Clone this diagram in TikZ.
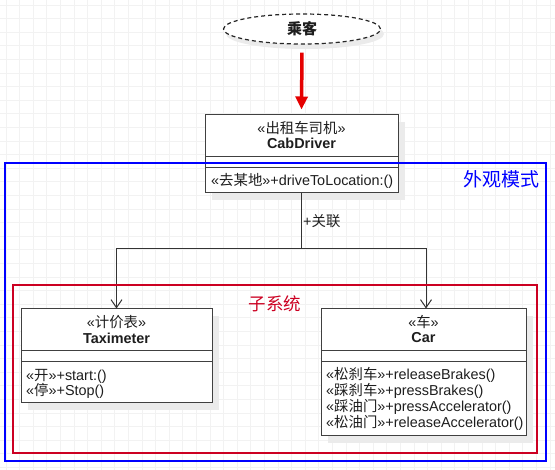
\documentclass[tikz,border=0pt]{standalone}
\usepackage{fontspec}
\setmainfont{Liberation Sans}
\newfontfamily\cjk{Noto Sans CJK SC}
\usetikzlibrary{arrows.meta,shapes.geometric}
\newcommand{\zh}[1]{{\cjk #1}}
\definecolor{subred}{RGB}{204,0,34}
\definecolor{ink}{RGB}{30,30,30}
\tikzset{
  gridline/.style={draw=black!5, line width=0.8pt},
  cls/.style={draw=black!75, line width=1pt, fill=white, inner sep=0pt, rectangle},
  cline/.style={draw=black!75, line width=1pt},
  shadowbox/.style={fill=black!8, draw=none},
  txt/.style={inner sep=0pt, font=\fontsize{14.4}{16}\selectfont, text=ink},
  mth/.style={txt, anchor=base west},
  assoc/.style={draw=black!80, line width=0.9pt, -{Straight Barb[length=8pt,width=11pt,line width=1pt]}},
  redarrow/.style={draw=red!90!black, line width=3.5pt, -{Triangle[length=13pt,width=12pt]}, shorten <=8pt, shorten >=5pt},
  frame/.style={line width=2pt},
}
\begin{document}
\begin{tikzpicture}[x=1pt,y=-1pt]
\useasboundingbox (0,0) rectangle (555,470);
\fill[white] (0,0) rectangle (555,470);
% background grid
\foreach \i in {0,...,40} \draw[gridline] ({6+13.6*\i},0) -- ({6+13.6*\i},470);
\foreach \j in {0,...,34} \draw[gridline] (0,{5+13.6*\j}) -- (555,{5+13.6*\j});

% passenger ellipse
\fill[black!8] (305,34) ellipse [x radius=79, y radius=15];
\node[draw=black!85, dashed, dash pattern=on 4pt off 3pt, line width=1.2pt, ellipse, fill=white,
      minimum width=157pt, minimum height=30pt, inner sep=0pt,
      font=\fontsize{15}{16}\selectfont\bfseries, text=ink] (pass) at (302,29) {\zh{乘客}};

% CabDriver
\fill[shadowbox] (212,122) rectangle (405,200);
\node[cls, minimum width=193pt, minimum height=78pt] (cab) at (301.5,154) {};
\draw[cline] (205,157) -- (398,157);
\draw[cline] (205,168) -- (398,168);
\node[txt] (cabst) at (301.5,128) {«\zh{出租车司机}»};
\node[txt, font=\fontsize{14.4}{16}\selectfont\bfseries] (cabnm) at (301.5,143) {CabDriver};
\node[mth] (cabm1) at (211,186) {«\zh{去某地}»+driveToLocation:()};

% Taximeter
\fill[shadowbox] (28,316) rectangle (219,410);
\node[cls, minimum width=191pt, minimum height=94pt] (taxi) at (116.5,356) {};
\draw[cline] (21,351) -- (212,351);
\draw[cline] (21,362) -- (212,362);
\node[txt] (taxist) at (116.5,322) {«\zh{计价表}»};
\node[txt, font=\fontsize{14.4}{16}\selectfont\bfseries] (taxinm) at (116.5,338) {Taximeter};
\node[mth] (taxim1) at (26,381) {«\zh{开}»+start:()};
\node[mth] (taxim2) at (26,396) {«\zh{停}»+Stop()};

% Car
\fill[shadowbox] (328,316) rectangle (533,443);
\node[cls, minimum width=205pt, minimum height=127pt] (car) at (423.5,372.5) {};
\draw[cline] (321,351) -- (526,351);
\draw[cline] (321,362) -- (526,362);
\node[txt] (carst) at (423.5,322) {«\zh{车}»};
\node[txt, font=\fontsize{14.4}{16}\selectfont\bfseries] (carnm) at (423.5,338) {Car};
\node[mth] (carm1) at (326,380) {«\zh{松刹车}»+releaseBrakes()};
\node[mth] (carm2) at (326,396) {«\zh{踩刹车}»+pressBrakes()};
\node[mth] (carm3) at (326,412) {«\zh{踩油门}»+pressAccelerator()};
\node[mth] (carm4) at (326,428) {«\zh{松油门}»+releaseAccelerator()};

% connectors
\draw[redarrow] (pass.south) -- (cab.north);
\coordinate (j) at (301.5,248);
\draw[draw=black!80, line width=0.9pt] (cab.south) -- (j);
\draw[assoc] (j) -| (taxi.north);
\draw[assoc] (j) -| ([xshift=2.5pt]car.north);
\node[txt, anchor=west] (rel) at (303,221) {+\zh{关联}};

% frames
\draw[frame, draw=blue] (5,163) rectangle (546,461);
\node[inner sep=0pt, font=\fontsize{19}{21}\selectfont\cjk, text=blue] (facade) at (501,179) {外观模式};
\draw[frame, draw=subred] (13,285) rectangle (537,453);
\node[inner sep=0pt, font=\fontsize{17.5}{19}\selectfont\cjk, text=subred] (subsys) at (275,304) {子系统};
\end{tikzpicture}
\end{document}
